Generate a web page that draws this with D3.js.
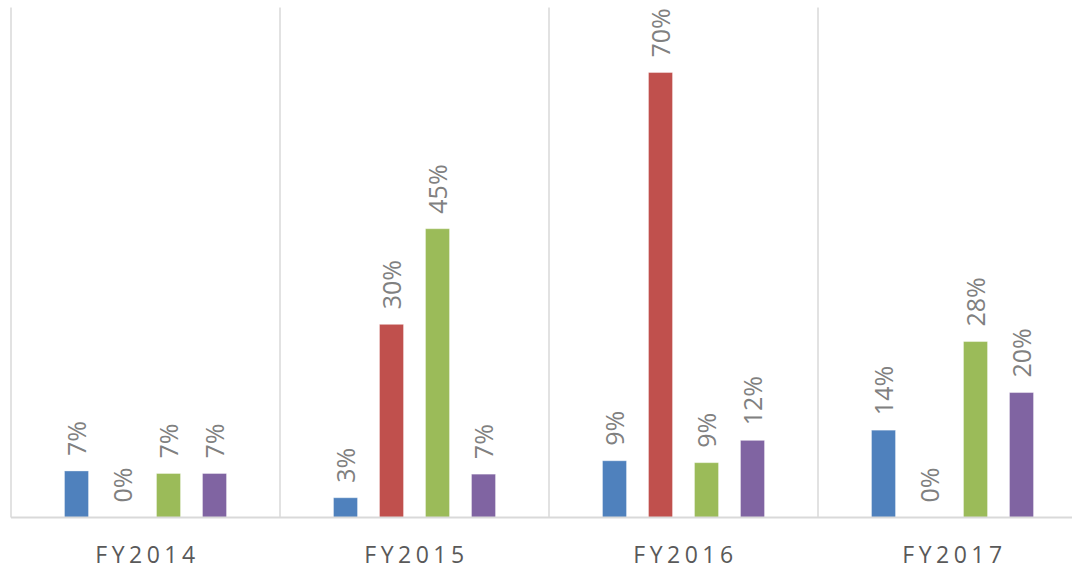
<!DOCTYPE html>
<html>
<head>
<meta charset="utf-8">
<script src="https://cdn.jsdelivr.net/npm/d3@7"></script>
<style>
  html, body { margin: 0; padding: 0; background: #fff; }
  svg { display: block; }
</style>
</head>
<body>
<div id="chart"></div>
<script>
// Grouped column chart, four fiscal years, four series

const years = ["FY2014", "FY2015", "FY2016", "FY2017"];
const seriesNames = ["Series 1", "Series 2", "Series 3", "Series 4"];

// share per year, one array per series
const blueValues = [0.073, 0.031, 0.089, 0.137];
const redValues = [0.0, 0.303, 0.698, 0.0];
const greenValues = [0.069, 0.453, 0.086, 0.276];
const purpleValues = [0.069, 0.068, 0.121, 0.196];

const seriesColors = ["#4f81bd", "#c0504d", "#9bbb59", "#8064a2"];
const yMax = 0.8;

const allValues = [blueValues, redValues, greenValues, purpleValues];

const width = 1072, height = 570;
const plot = { left: 11, right: 1087, top: 7.5, bottom: 517.5 };

const svg = d3.select("#chart")
  .append("svg")
  .attr("width", width)
  .attr("height", height);

// Scales
const x0 = d3.scaleBand()
  .domain(years)
  .range([plot.left, plot.right])
  .padding(0);

const groupW = x0.bandwidth();
const x1 = d3.scaleBand()
  .domain(seriesNames)
  .range([groupW / 2 - 92, groupW / 2 + 92])
  .paddingInner(0.478)
  .paddingOuter(0.239);

const y = d3.scaleLinear()
  .domain([0, yMax])
  .range([plot.bottom, plot.top]);

const fmt = d3.format(".0%");

// Vertical gridlines between categories
const gridX = years.map(d => x0(d)).concat([plot.right]);
svg.append("g")
  .selectAll("line")
  .data(gridX)
  .enter()
  .append("line")
  .attr("x1", d => d)
  .attr("x2", d => d)
  .attr("y1", plot.top)
  .attr("y2", plot.bottom)
  .attr("stroke", "#d9d9d9")
  .attr("stroke-width", 1.5);

// Rows of bar data
const rows = [];
years.forEach((yr, i) => {
  seriesNames.forEach((s, j) => {
    rows.push({ year: yr, series: s, value: allValues[j][i], color: seriesColors[j] });
  });
});

// Bars
svg.append("g")
  .selectAll("rect")
  .data(rows.filter(d => d.value > 0))
  .enter()
  .append("rect")
  .attr("x", d => x0(d.year) + x1(d.series))
  .attr("y", d => y(d.value))
  .attr("width", x1.bandwidth())
  .attr("height", d => y(0) - y(d.value))
  .attr("fill", d => d.color)
  .attr("stroke", "#ffffff")
  .attr("stroke-opacity", 0.35)
  .attr("stroke-width", 1);

// Baseline
svg.append("line")
  .attr("x1", plot.left)
  .attr("x2", plot.right)
  .attr("y1", y(0))
  .attr("y2", y(0))
  .attr("stroke", "#d9d9d9")
  .attr("stroke-width", 2);

// Rotated value labels
svg.append("g")
  .selectAll("text")
  .data(rows)
  .enter()
  .append("text")
  .attr("transform", d => {
    const cx = x0(d.year) + x1(d.series) + x1.bandwidth() / 2;
    return `translate(${cx},${y(d.value) - 15}) rotate(-90)`;
  })
  .attr("dy", "0.36em")
  .attr("text-anchor", "start")
  .style("font-family", "'Open Sans', sans-serif")
  .style("font-size", "25px")
  .style("fill", "#808080")
  .text(d => fmt(d.value));

// Category axis labels
svg.append("g")
  .selectAll("text")
  .data(years)
  .enter()
  .append("text")
  .attr("x", d => x0(d) + groupW / 2 + 2)
  .attr("y", 563)
  .attr("text-anchor", "middle")
  .style("font-family", "'Open Sans', sans-serif")
  .style("font-size", "23px")
  .style("letter-spacing", "4.5px")
  .style("fill", "#595959")
  .text(d => d);
</script>
</body>
</html>
